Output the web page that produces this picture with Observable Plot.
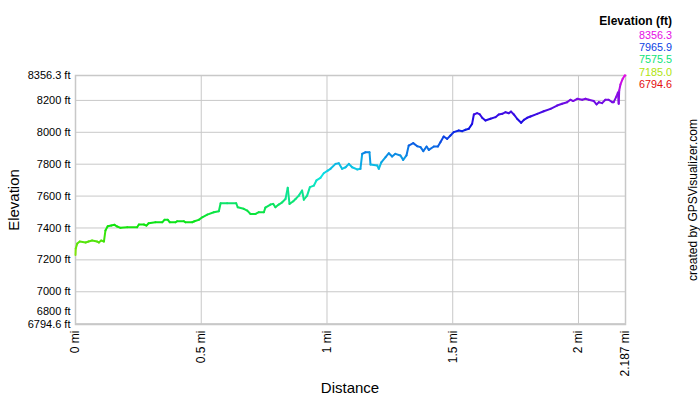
<!DOCTYPE html>
<html>
<head>
<meta charset="utf-8">
<script src="https://cdn.jsdelivr.net/npm/d3@7"></script>
<script src="https://cdn.jsdelivr.net/npm/@observablehq/plot@0.6"></script>
<style>
  html, body { margin: 0; padding: 0; background: #fff; }
  #chart { width: 700px; height: 400px; }
  svg { font-family: "Liberation Sans", Arial, sans-serif; }
</style>
</head>
<body>
<div id="chart"></div>
<script>
// Distance along track (miles)
const distance = [
  0.000, 0.001, 0.007, 0.017, 0.040, 0.052, 0.066, 0.086, 0.093, 0.102,
  0.113, 0.119, 0.128, 0.142, 0.155, 0.166, 0.179, 0.206, 0.245, 0.252,
  0.272, 0.282, 0.291, 0.318, 0.345, 0.354, 0.367, 0.375, 0.398, 0.404,
  0.431, 0.437, 0.464, 0.473, 0.490, 0.504, 0.524, 0.550, 0.570, 0.577,
  0.603, 0.639, 0.645, 0.669, 0.683, 0.696, 0.716, 0.729, 0.749, 0.755,
  0.775, 0.786, 0.795, 0.808, 0.822, 0.835, 0.844, 0.851, 0.866, 0.875,
  0.888, 0.901, 0.908, 0.921, 0.932, 0.948, 0.958, 0.974, 0.987, 1.003,
  1.014, 1.034, 1.047, 1.060, 1.074, 1.087, 1.100, 1.120, 1.133, 1.140,
  1.153, 1.169, 1.173, 1.200, 1.206, 1.216, 1.233, 1.246, 1.259, 1.272,
  1.292, 1.303, 1.316, 1.325, 1.343, 1.359, 1.372, 1.383, 1.396, 1.405,
  1.425, 1.441, 1.451, 1.464, 1.478, 1.491, 1.504, 1.524, 1.538, 1.551,
  1.564, 1.577, 1.584, 1.597, 1.608, 1.617, 1.630, 1.650, 1.670, 1.683,
  1.697, 1.710, 1.723, 1.732, 1.743, 1.756, 1.772, 1.783, 1.796, 1.809,
  1.836, 1.862, 1.889, 1.915, 1.935, 1.955, 1.968, 1.979, 1.995, 2.015,
  2.028, 2.041, 2.061, 2.072, 2.081, 2.094, 2.107, 2.120, 2.134, 2.140,
  2.151, 2.157, 2.160, 2.162, 2.167, 2.176, 2.184, 2.187
];
// Elevation (feet)
const elevation = [
  7230, 7271, 7302, 7315, 7309, 7315, 7321, 7315, 7309, 7321,
  7315, 7384, 7411, 7415, 7420, 7409, 7401, 7405, 7405, 7422,
  7422, 7415, 7430, 7436, 7436, 7451, 7451, 7436, 7436, 7442,
  7442, 7436, 7436, 7442, 7451, 7467, 7484, 7499, 7505, 7555,
  7555, 7555, 7530, 7520, 7509, 7488, 7488, 7499, 7499, 7528,
  7547, 7551, 7530, 7547, 7561, 7582, 7652, 7551, 7568, 7582,
  7603, 7635, 7577, 7603, 7656, 7666, 7698, 7714, 7743, 7760,
  7771, 7802, 7806, 7771, 7781, 7802, 7781, 7767, 7771, 7865,
  7875, 7875, 7798, 7792, 7771, 7812, 7844, 7869, 7848, 7865,
  7855, 7827, 7855, 7917, 7932, 7913, 7907, 7882, 7911, 7890,
  7911, 7911, 7938, 7974, 7959, 7980, 8001, 8011, 8007, 8016,
  8022, 8053, 8112, 8120, 8112, 8091, 8074, 8085, 8095, 8112,
  8116, 8126, 8120, 8130, 8112, 8085, 8060, 8078, 8091, 8099,
  8116, 8132, 8147, 8168, 8179, 8189, 8204, 8196, 8210, 8204,
  8210, 8204, 8196, 8175, 8189, 8183, 8204, 8204, 8189, 8189,
  8225, 8250, 8179, 8262, 8300, 8336, 8356.3, 8356.3
];
const elevMin = 6794.6;
const elevMax = 8356.3;
const distMax = 2.187;
const yTicks = [8356.3, 8200, 8000, 7800, 7600, 7400, 7200, 7000];
const yTickLow = [6800];
const yTickMin = [6794.6];
const yGrid = [8200, 8000, 7800, 7600, 7400, 7200, 7000, 6800];
const xTicks = [0, 0.5, 1, 1.5, 2, 2.187];
const xGrid = [0.5, 1, 1.5, 2];
const legendValues = [8356.3, 7965.9, 7575.5, 7185.0, 6794.6];

const rainbow = t => d3.hsl(300 * t, 0.9, 0.47).formatHex();

const segments = d3.range(distance.length - 1).map(i => ({
  x1: distance[i], y1: elevation[i], x2: distance[i + 1], y2: elevation[i + 1],
  e: (elevation[i] + elevation[i + 1]) / 2
}));

const colorOpts = { type: "linear", domain: [elevMin, elevMax], interpolate: rainbow };

const chart = Plot.plot({
  width: 700,
  height: 400,
  marginLeft: 75,
  marginRight: 75,
  marginTop: 75,
  marginBottom: 76,
  style: { fontFamily: "'Liberation Sans', Arial, sans-serif", fontSize: "11px", color: "#000", background: "#fff" },
  x: { domain: [0, distMax] },
  y: { domain: [elevMin, elevMax] },
  color: colorOpts,
  marks: [
    Plot.gridY(yGrid, { stroke: "#c8c8c8", strokeOpacity: 1 }),
    Plot.gridX(xGrid, { stroke: "#c8c8c8", strokeOpacity: 1 }),
    Plot.frame({ stroke: "#c8c8c8", strokeWidth: 1.5 }),
    Plot.link(segments, {
      x1: "x1", y1: "y1", x2: "x2", y2: "y2",
      stroke: "e", strokeWidth: 2, strokeLinecap: "round"
    }),
    Plot.axisY(yTicks, { tickFormat: d => d + " ft", tickSize: 0, tickPadding: 5, label: null, fill: "#000" }),
    Plot.axisY(yTickLow, { tickFormat: d => d + " ft", tickSize: 0, tickPadding: 5, label: null, dy: -12.5, fill: "#000" }),
    Plot.axisY(yTickMin, { tickFormat: d => d + " ft", tickSize: 0, tickPadding: 5, label: null, fill: "#000" }),
    Plot.axisX(xTicks, { tickFormat: d => d + " mi", tickRotate: -90, tickSize: 0, tickPadding: 6, label: null, fontSize: 12, fill: "#000" })
  ]
});

document.getElementById("chart").appendChild(chart);

const svg = d3.select(chart);
const ff = "'Liberation Sans', Arial, sans-serif";

svg.append("text")
  .attr("x", 350).attr("y", 393)
  .attr("text-anchor", "middle")
  .attr("font-family", ff).attr("font-size", 15).attr("fill", "#000")
  .text("Distance");

svg.append("text")
  .attr("transform", "translate(19,200) rotate(-90)")
  .attr("text-anchor", "middle")
  .attr("font-family", ff).attr("font-size", 15).attr("fill", "#000")
  .text("Elevation");

svg.append("text")
  .attr("transform", "translate(697,200) rotate(-90)")
  .attr("text-anchor", "middle")
  .attr("font-family", ff).attr("font-size", 12).attr("fill", "#000")
  .text("created by GPSVisualizer.com");

const colorScale = Plot.scale({ color: colorOpts });
svg.append("text")
  .attr("x", 672).attr("y", 25)
  .attr("text-anchor", "end")
  .attr("font-family", ff).attr("font-size", 12).attr("font-weight", "bold").attr("fill", "#000")
  .text("Elevation (ft)");

legendValues.forEach((v, i) => {
  svg.append("text")
    .attr("x", 672).attr("y", 39 + i * 12.2)
    .attr("text-anchor", "end")
    .attr("font-family", ff).attr("font-size", 10.8)
    .attr("fill", colorScale.apply(v))
    .text(v.toFixed(1));
});
</script>
</body>
</html>
